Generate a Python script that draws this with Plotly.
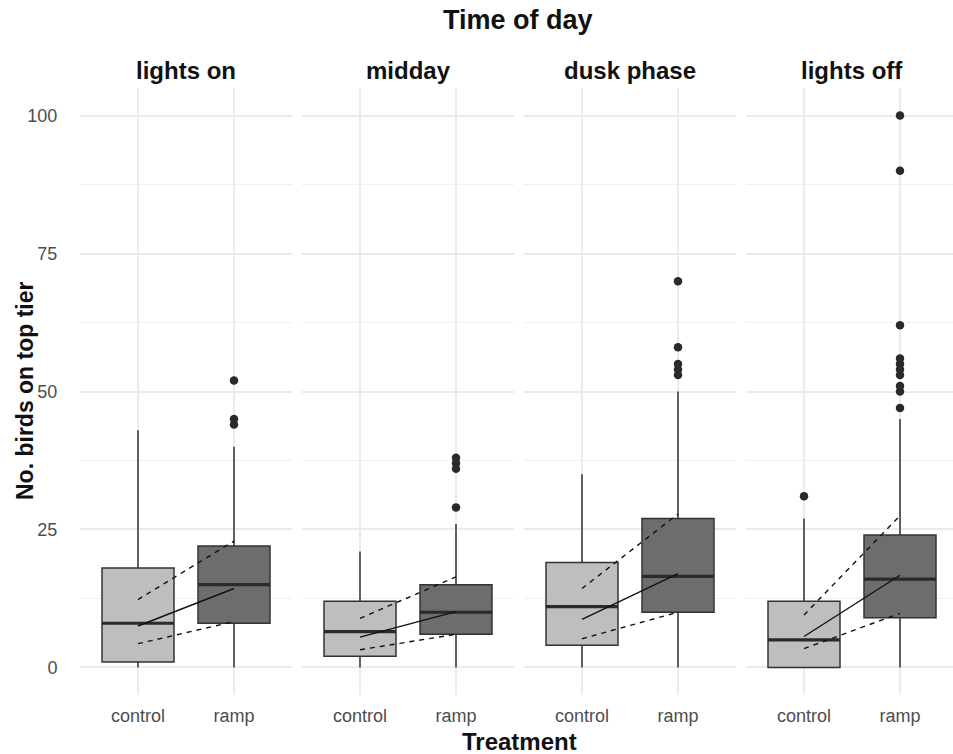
import plotly.graph_objects as go

# ---------------- data ----------------
panels = ["lights on", "midday", "dusk phase", "lights off"]
treatments = ["control", "ramp"]

# box statistics per panel: [control, ramp]
q1 = [[1, 8], [2, 6], [4, 10], [0, 9]]
median = [[8, 15], [6.5, 10], [11, 16.5], [5, 16]]
q3 = [[18, 22], [12, 15], [19, 27], [12, 24]]
lowerfence = [[0, 0], [0, 0], [0, 0], [0, 0]]
upperfence = [[43, 40], [21, 26], [35, 50], [27, 45]]

# outliers per panel: [control list, ramp list]
outliers = [
    [[], [44, 45, 52]],
    [[], [29, 36, 37, 38]],
    [[], [53, 54, 55, 58, 70]],
    [[31], [47, 50, 51, 53, 54, 55, 56, 62, 90, 100]],
]

# model predictions (fit, upper CI, lower CI) per panel: [control, ramp]
fit = [[7.5, 14.3], [5.5, 10.1], [8.7, 17.0], [5.6, 16.7]]
upper = [[12.3, 22.9], [8.9, 16.4], [14.3, 27.8], [9.5, 27.5]]
lower = [[4.3, 8.3], [3.2, 6.0], [5.2, 10.0], [3.4, 9.8]]

y_ticks = [0, 25, 50, 75, 100]

# ---------------- style ----------------
FONT = "Liberation Sans, Arial, Helvetica, sans-serif"
fills = ["#bebebe", "#6d6d6d"]
outline = "#333333"
BOX_W = 0.75

OFF = 0                      # body margin removed via post_script
PAGE_W, PAGE_H = 953, 754
W, H = PAGE_W - OFF, PAGE_H - OFF
ML, MR, MT, MB = 80 - OFF, 0, 88 - OFF, 59
PW = W - ML - MR
PH = H - MT - MB

def px_x(p):               # page pixel -> paper x
    return (p - OFF - ML) / PW

def px_y(p):               # page pixel -> paper y
    return (H - MB - (p - OFF)) / PH

unit = 96.0
panel_w = 2.2 * unit
step = 222.0
first_left = 80.4

fig = go.Figure()
layout = {}
positions = [0, 1]

for i, name in enumerate(panels):
    sfx = "" if i == 0 else str(i + 1)
    xa, ya = "x" + sfx, "y" + sfx
    left = first_left + i * step
    right = min(left + panel_w, PAGE_W)
    xmax = -0.6 + (right - left) / unit

    for j, tr in enumerate(treatments):
        pos = positions[j]
        fig.add_trace(go.Box(
            x=[pos], q1=[q1[i][j]], median=[median[i][j]], q3=[q3[i][j]],
            lowerfence=[lowerfence[i][j]], upperfence=[upperfence[i][j]],
            width=BOX_W, fillcolor=fills[j],
            line=dict(color=outline, width=1.5), whiskerwidth=0,
            boxpoints=False, showlegend=False, hoverinfo="skip",
            xaxis=xa, yaxis=ya,
        ))
        fig.add_trace(go.Scatter(
            x=[pos - BOX_W / 2, pos + BOX_W / 2],
            y=[median[i][j], median[i][j]],
            mode="lines", line=dict(color="#2a2a2a", width=3.2),
            showlegend=False, hoverinfo="skip", xaxis=xa, yaxis=ya,
        ))
        if outliers[i][j]:
            fig.add_trace(go.Scatter(
                x=[pos] * len(outliers[i][j]), y=outliers[i][j],
                mode="markers", marker=dict(color="#2a2a2a", size=8.5),
                showlegend=False, hoverinfo="skip", xaxis=xa, yaxis=ya,
            ))

    # prediction lines
    fig.add_trace(go.Scatter(
        x=positions, y=fit[i], mode="lines",
        line=dict(color="#111111", width=1.4),
        showlegend=False, hoverinfo="skip", xaxis=xa, yaxis=ya,
    ))
    for band in (upper, lower):
        fig.add_trace(go.Scatter(
            x=positions, y=band[i], mode="lines",
            line=dict(color="#111111", width=1.4, dash="5px,5px"),
            showlegend=False, hoverinfo="skip", xaxis=xa, yaxis=ya,
        ))

    layout["xaxis" + sfx] = dict(
        domain=[px_x(left), px_x(right)], range=[-0.6, xmax],
        tickvals=positions, ticktext=treatments, showgrid=True,
        gridcolor="#ebebeb", gridwidth=1.5, zeroline=False, showline=False,
        ticks="", ticklabelstandoff=8,
        tickfont=dict(family=FONT, size=18, color="#4d4d4d"),
        anchor=ya, fixedrange=True,
    )
    layout["yaxis" + sfx] = dict(
        domain=[0, 1], range=[-5, 105], tickvals=y_ticks,
        showticklabels=(i == 0), showgrid=True, gridcolor="#ebebeb",
        gridwidth=1.5, zeroline=False, showline=False, ticks="",
        ticklabelstandoff=22,
        tickfont=dict(family=FONT, size=18, color="#4d4d4d"),
        minor=dict(dtick=12.5, tick0=0, showgrid=True,
                   gridcolor="#f0f0f0", gridwidth=1.0),
        anchor=xa, fixedrange=True,
    )

    fig.add_annotation(
        text="<b>%s</b>" % name, x=px_x(left + panel_w / 2), y=px_y(70),
        xref="paper", yref="paper", showarrow=False,
        xanchor="center", yanchor="middle",
        font=dict(family=FONT, size=24, color="#111111"),
    )

fig.add_annotation(
    text="<b>Time of day</b>", x=px_x(518), y=px_y(20),
    xref="paper", yref="paper", showarrow=False,
    xanchor="center", yanchor="middle",
    font=dict(family=FONT, size=27, color="#111111"),
)
fig.add_annotation(
    text="<b>Treatment</b>", x=px_x(519), y=px_y(741),
    xref="paper", yref="paper", showarrow=False,
    xanchor="center", yanchor="middle",
    font=dict(family=FONT, size=24, color="#111111"),
)
fig.add_annotation(
    text="<b>No. birds on top tier</b>", x=px_x(25), y=px_y(391),
    xref="paper", yref="paper", showarrow=False, textangle=-90,
    xanchor="center", yanchor="middle",
    font=dict(family=FONT, size=23, color="#111111"),
)

fig.update_layout(
    width=W, height=H, template=None,
    margin=dict(l=ML, r=MR, t=MT, b=MB),
    paper_bgcolor="white", plot_bgcolor="white",
    showlegend=False, **layout,
)

fig.write_html(
    "out.html", config={"displayModeBar": False},
    post_script="document.body.style.margin='0px';"
                "document.body.style.overflow='hidden';",
)
